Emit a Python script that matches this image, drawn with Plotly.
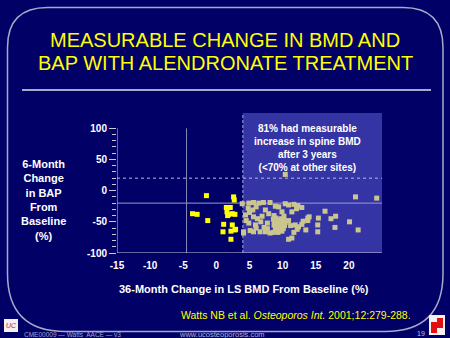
import plotly.graph_objects as go

# ---------------- data ----------------
yellow_x = [-1.5, -3.6, -2.9, -1.3, 2.6, 2.7, 1.5, 2.1, 1.6, 1.9, 2.4, 2.8, 1.7,
            1.1, 2.4, 2.8, 1.0, 2.2, 2.9, 2.2]
yellow_y = [-8, -37, -38, -48, -10, -15, -27, -27, -34, -38, -37, -38, -40,
            -54, -55, -63, -66, -65, -62, -78]

khaki_x = [3.9, 4.9, 5.6, 6.4, 7.1, 8.1,
           8.9, 9.4, 10.4, 10.9, 11.7, 12.2, 12.3, 12.9, 12.1,
           4.8, 5.5, 7.4, 9.9, 11.4, 6.0,
           4.4, 5.6, 6.9, 8.7, 10.2, 7.9, 5.0,
           4.9, 5.9, 6.7, 7.7, 4.5, 6.2,
           8.6, 9.0, 9.4, 9.8, 10.2, 8.8, 9.2, 9.6, 10.0, 10.4, 8.7, 9.1, 9.5, 9.9, 10.3,
           9.3, 9.7, 8.9, 10.1, 9.5,
           10.9, 11.2, 11.9, 11.7, 11.4, 10.9,
           4.1, 4.1, 5.6, 6.6, 7.4, 8.1, 8.6, 9.3, 9.9,
           9.0, 7.2, 7.7, 5.1, 6.0,
           21.0, 24.2, 10.4,
           16.4, 18.0, 17.3, 15.4, 13.8, 13.8, 20.1, 12.9, 12.4, 12.2, 15.3, 17.9,
           13.5, 15.3, 21.4, 13.1, 14.0]
khaki_y = [-21, -20, -19, -20, -19, -19,
           -25, -26, -21, -23, -22, -25, -24, -27, -29,
           -28, -31, -31, -34, -34, -26,
           -39, -42, -41, -40, -41, -37, -35,
           -52, -55, -50, -52, -48, -45,
           -46, -44, -47, -45, -48, -50, -52, -50, -53, -51, -55, -57, -55, -58, -56,
           -60, -62, -61, -61, -49,
           -48, -56, -55, -67, -76, -78,
           -66, -68, -66, -66, -66, -68, -67, -67, -65,
           -59, -59, -61, -64, -60,
           -10, -12, 26,
           -33, -41, -45, -44, -44, -48, -50, -54, -58, -62, -55, -59,
           -63, -66, -63, -49, -42]

x_ticks = [-15, -10, -5, 0, 5, 10, 15, 20]
x_tick_text = ["-15", "-10", "-5", "0", "5", "10", "15", "20"]
y_ticks = [-100, -50, 0, 50, 100]
y_tick_text = ["-100", "-50", "0", "50", "100"]
y_minor = [-90, -80, -70, -60, -40, -30, -20, -10, 10, 20, 30, 40, 60, 70, 80, 90]

title_l1 = "MEASURABLE CHANGE IN BMD AND"
title_l2 = "BAP WITH ALENDRONATE TREATMENT"
x_title = "36-Month Change in LS BMD From Baseline (%)"
y_title = "6-Month<br>Change<br>in BAP<br>From<br>Baseline<br>(%)"
box_text = "81% had measurable<br>increase in spine BMD<br>after 3 years<br>(<70% at other sites)"
citation = "Watts NB et al. <i>Osteoporos Int.</i> 2001;12:279-288."

# ---------------- layout geometry ----------------
W, H = 450, 338
L, R, T, B = 117, 68, 113, 85
PW = W - L - R
PH = H - T - B


def px(x):
    return (x - L) / PW


def py(y):
    return (H - B - y) / PH


BG = "#000066"
BOX = "#3434a4"
LINE = "#c8c8dc"
FONT = "Liberation Sans, Arial, sans-serif"

fig = go.Figure()
fig.add_trace(go.Scatter(x=khaki_x, y=khaki_y, mode="markers",
                         marker=dict(symbol="square", size=5, color="#cbc690",
                                     line=dict(width=0)),
                         showlegend=False, hoverinfo="skip"))
fig.add_trace(go.Scatter(x=yellow_x, y=yellow_y, mode="markers",
                         marker=dict(symbol="square", size=5, color="#ffff00",
                                     line=dict(width=0)),
                         showlegend=False, hoverinfo="skip"))

shapes = []
# shaded box
shapes.append(dict(type="rect", xref="x", yref="y", x0=4, x1=25, y0=-100, y1=124.5,
                   fillcolor=BOX, line=dict(width=0), layer="below"))
shapes.append(dict(type="line", xref="x", yref="y", x0=4, x1=4, y0=-100, y1=124.5,
                   line=dict(color="#a8a8e0", width=1, dash="3px,2px"), layer="below"))
# reference lines
shapes.append(dict(type="line", xref="x", yref="y", x0=-15, x1=25, y0=20, y1=20,
                   line=dict(color="#b8b8e0", width=1, dash="3px,3px"), layer="below"))
shapes.append(dict(type="line", xref="x", yref="y", x0=-15, x1=25, y0=-20, y1=-20,
                   line=dict(color="#9a9ad0", width=1), layer="below"))
shapes.append(dict(type="line", xref="x", yref="y", x0=-4.5, x1=-4.5, y0=-100, y1=100,
                   line=dict(color="#8a8ab8", width=1), layer="below"))
# axis lines
shapes.append(dict(type="line", xref="x", yref="y", x0=-15, x1=-15, y0=-100, y1=100,
                   line=dict(color=LINE, width=1)))
shapes.append(dict(type="line", xref="x", yref="y", x0=-15, x1=25, y0=-100, y1=-100,
                   line=dict(color=LINE, width=1)))

# rounded slide border
x0b, x1b, y0b, y1b = 7.5, 443, 7.5, 331.5
rt, rb = 40, 58
path = (f"M {px(x0b + rt)},{py(y0b)} L {px(x1b - rt)},{py(y0b)} "
        f"Q {px(x1b)},{py(y0b)} {px(x1b)},{py(y0b + rt)} "
        f"L {px(x1b)},{py(y1b - rb)} Q {px(x1b)},{py(y1b)} {px(x1b - rb)},{py(y1b)} "
        f"L {px(x0b + rb)},{py(y1b)} Q {px(x0b)},{py(y1b)} {px(x0b)},{py(y1b - rb)} "
        f"L {px(x0b)},{py(y0b + rt)} Q {px(x0b)},{py(y0b)} {px(x0b + rt)},{py(y0b)}")
shapes.append(dict(type="path", xref="paper", yref="paper", path=path,
                   line=dict(color="#a8a8c8", width=1.5), layer="below"))
# title underline
shapes.append(dict(type="line", xref="paper", yref="paper", x0=px(22), x1=px(431),
                   y0=py(90), y1=py(90), line=dict(color="#e0e0f0", width=1.5)))
# logos
shapes.append(dict(type="rect", xref="paper", yref="paper", x0=px(4), x1=px(18),
                   y0=py(332), y1=py(319), fillcolor="#f4f0f0", line=dict(width=0)))
shapes.append(dict(type="rect", xref="paper", yref="paper", x0=px(429), x1=px(445),
                   y0=py(335), y1=py(315), fillcolor="#f4f0f0", line=dict(width=0)))
shapes.append(dict(type="rect", xref="paper", yref="paper", x0=px(431), x1=px(437),
                   y0=py(333), y1=py(322), fillcolor="#e01010", line=dict(width=0)))
shapes.append(dict(type="rect", xref="paper", yref="paper", x0=px(437), x1=px(443),
                   y0=py(328), y1=py(318), fillcolor="#e01010", line=dict(width=0)))

annotations = []


def ann(text, x, y, size, color, bold=False, xanchor="center", family=FONT):
    t = f"<b>{text}</b>" if bold else text
    annotations.append(dict(text=t, x=px(x), y=py(y), xref="paper", yref="paper",
                            showarrow=False, xanchor=xanchor, yanchor="middle",
                            font=dict(size=size, color=color, family=family)))


ann(title_l1, 225, 40, 20, "#ffff00")
ann(title_l2, 225, 63, 20, "#ffff00")
ann(y_title, 43, 200, 11, "#ffffff", bold=True)
ann(x_title, 244, 289, 11, "#ffffff", bold=True)
ann(box_text, 307, 148, 10, "#ffffff", bold=True)
ann(citation, 413, 315, 10.5, "#ffff00", xanchor="right")
ann("CME00009 — Watts  AACE — v3", 22, 334, 6.5, "#a0a0c8", xanchor="left")
ann("www.ucosteoporosis.com", 222, 334, 7.5, "#b0b0d0")
ann("19", 421, 333, 7, "#c0c0e0")
ann("<i>UC</i>", 11, 325.5, 7, "#d01010")

fig.update_layout(
    width=W, height=H,
    margin=dict(l=L, r=R, t=T, b=B, pad=0),
    paper_bgcolor=BG, plot_bgcolor=BG,
    shapes=shapes, annotations=annotations,
    font=dict(family=FONT, color="#ffffff"),
    xaxis=dict(range=[-15, 25], tickmode="array", tickvals=x_ticks,
               ticktext=[f"<b>{t}</b>" for t in x_tick_text],
               showgrid=False, zeroline=False, showline=False,
               ticks="outside", ticklen=3, tickcolor="rgba(0,0,0,0)",
               tickfont=dict(size=10, color="#ffffff", family=FONT)),
    yaxis=dict(range=[-100, 124.5], tickmode="array", tickvals=y_ticks,
               ticktext=[f"<b>{t}</b>" for t in y_tick_text],
               showgrid=False, zeroline=False, showline=False,
               ticks="outside", ticklen=7, tickwidth=1, tickcolor=LINE,
               minor=dict(tickmode="array", tickvals=y_minor, ticks="outside",
                          ticklen=4, tickwidth=1, tickcolor=LINE),
               tickfont=dict(size=10, color="#ffffff", family=FONT)),
)

fig.write_html("out.html")
